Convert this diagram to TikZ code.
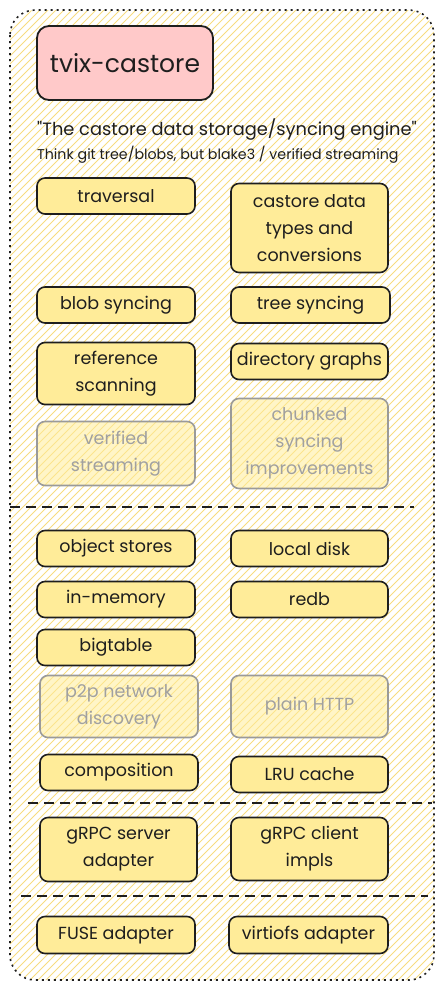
\documentclass[tikz,border=0pt]{standalone}
\usepackage{fontspec}
\setmainfont{Poppins}
\definecolor{hatch}{HTML}{F7DC80}
\definecolor{compfill}{HTML}{FFEC99}
\definecolor{titlefill}{HTML}{FFC9C9}
\definecolor{ink}{HTML}{1E1E1E}
\tikzset{
  comp/.style={draw=ink, line width=1.6pt, rounded corners=8pt, fill=compfill,
    minimum width=158pt, minimum height=36pt, align=center, font=\fontsize{17.5}{27}\selectfont, text=ink},
  ghost/.style={comp, draw=ink!45, fill opacity=0.55, text opacity=1, text=ink!42},
  sep/.style={dashed, dash pattern=on 10pt off 6pt, line width=1.6pt, draw=ink}
}
\begin{document}
\begin{tikzpicture}[x=1pt,y=-1pt]
\useasboundingbox (0,0) rectangle (444,989);
% hatched background of the frame
\begin{scope}
  \clip[rounded corners=25pt] (10,10) rectangle (434,980);
  \foreach \c in {10,18,...,1450}
    \draw[hatch, line width=1pt] (\c,0) -- (\c-1000,1000);
\end{scope}
\draw[rounded corners=25pt, line width=1.6pt, draw=ink, dash pattern=on 2pt off 4pt]
  (10,10) rectangle (434,980);

\node[draw=ink, line width=1.8pt, rounded corners=12pt, fill=titlefill, minimum width=176pt,
  minimum height=74pt, font=\fontsize{25}{30}\selectfont, text=ink] (title) at (125,63) {tvix-castore};
\node[anchor=west, font=\fontsize{17.8}{20}\selectfont, text=ink, inner sep=0pt] (motto) at (37,130)
  {\textquotedbl The castore data storage/syncing engine\textquotedbl};
\node[anchor=west, font=\fontsize{14.2}{15}\selectfont, text=ink, inner sep=0pt] (note) at (37,155)
  {Think git tree/blobs, but blake3 / verified streaming};

\node[comp] (traversal) at (116,196) {traversal};
\node[comp, minimum width=157pt, minimum height=89pt] (types) at (309.5,228) {castore data\\types and\\conversions};
\node[comp] (blobsync) at (116,305) {blob syncing};
\node[comp, minimum width=159pt] (treesync) at (310.5,305) {tree syncing};
\node[comp, minimum height=62pt] (refscan) at (116,373.5) {reference\\scanning};
\node[comp, minimum width=157pt] (dirgraphs) at (309.5,361.5) {directory graphs};
\node[ghost, minimum height=64pt] (verified) at (116,453.5) {verified\\streaming};
\node[ghost, minimum width=157pt, minimum height=90pt] (chunked) at (309.5,443.5) {chunked\\syncing\\improvements};

\coordinate (sepA1) at (10,507);
\coordinate (sepA2) at (414,507);
\draw[sep] (sepA1) -- (sepA2);

\node[comp] (objstores) at (116,548.5) {object stores};
\node[comp, minimum width=157pt] (localdisk) at (309.5,548.5) {local disk};
\node[comp] (inmemory) at (116,599.5) {in-memory};
\node[comp, minimum width=157pt] (redb) at (309.5,599.5) {redb};
\node[comp] (bigtable) at (116,647.5) {bigtable};
\node[ghost, minimum height=62pt] (p2p) at (119,706.5) {p2p network\\discovery};
\node[ghost, minimum width=157pt, minimum height=62pt] (http) at (309.5,706.5) {plain HTTP};
\node[comp] (composition) at (119,772.5) {composition};
\node[comp, minimum width=157pt] (lru) at (309.5,774.5) {LRU cache};

\coordinate (sepB1) at (28,803);
\coordinate (sepB2) at (432,803);
\draw[sep] (sepB1) -- (sepB2);

\node[comp, minimum width=157pt, minimum height=64pt] (grpcserver) at (118.5,849.5) {gRPC server\\adapter};
\node[comp, minimum width=157pt, minimum height=63pt] (grpcclient) at (309.5,849) {gRPC client\\impls};

\coordinate (sepC1) at (21,896);
\coordinate (sepC2) at (428,896);
\draw[sep] (sepC1) -- (sepC2);

\node[comp, minimum height=37pt] (fuse) at (116,935) {FUSE adapter};
\node[comp, minimum width=159pt, minimum height=37pt] (virtiofs) at (308.5,935) {virtiofs adapter};
\end{tikzpicture}
\end{document}
